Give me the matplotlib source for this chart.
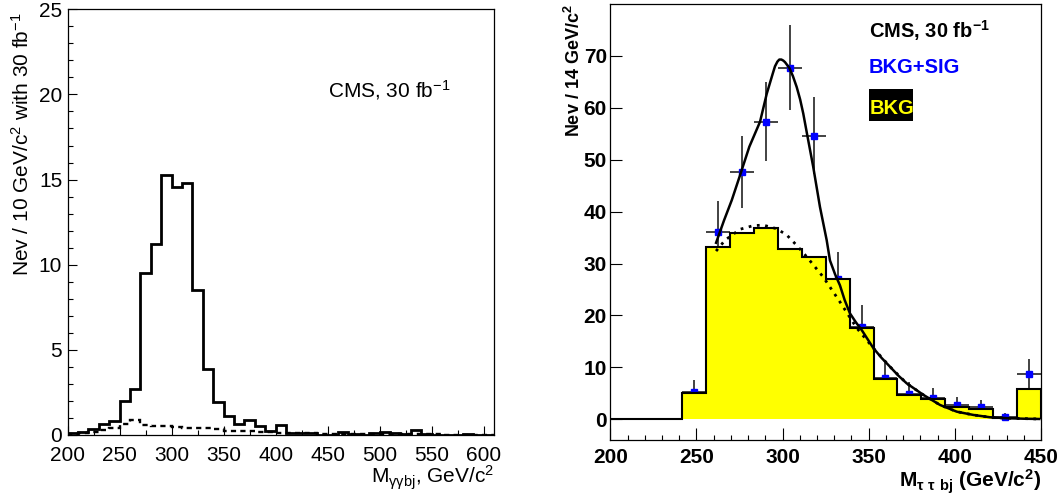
import numpy as np
import matplotlib
matplotlib.use("Agg")
import matplotlib.pyplot as plt
from matplotlib.patches import Rectangle

plt.rcParams['font.family'] = ['Liberation Sans', 'DejaVu Sans']
plt.rcParams['mathtext.default'] = 'regular'

# ---------------- Left panel data ----------------
left_edges = np.arange(200, 620, 10)
left_sig_bkg = [0.1, 0.2, 0.35, 0.65, 0.8, 1.97, 2.7, 9.5, 11.2, 15.27, 14.57, 14.78,
                8.5, 3.88, 1.96, 1.12, 0.63, 0.88, 0.5, 0.24, 0.6, 0.14, 0.14, 0.1,
                0.02, 0.0, 0.15, 0.05, 0.0, 0.12, 0.15, 0.1, 0.05, 0.28, 0.05, 0.0,
                0.0, 0.0, 0.07, 0.0, 0.0]
left_bkg = [0.08, 0.12, 0.2, 0.3, 0.42, 0.65, 0.9, 0.6, 0.55, 0.52, 0.48, 0.42,
            0.4, 0.4, 0.38, 0.26, 0.26, 0.22, 0.2, 0.15, 0.14, 0.12, 0.1, 0.09,
            0.08, 0.07, 0.06, 0.05, 0.05, 0.05, 0.04, 0.04, 0.04, 0.03, 0.03, 0.03,
            0.02, 0.02, 0.02, 0.02, 0.02]
left_xticks = [200, 250, 300, 350, 400, 450, 500, 550, 600]
left_yticks = [0, 5, 10, 15, 20, 25]

# ---------------- Right panel data ----------------
right_edges = np.linspace(200, 450, 19)
right_bkg = [0, 0, 0, 5.07, 33.2, 35.9, 36.9, 32.8, 31.3, 27.1, 17.6, 7.7,
             4.7, 3.85, 2.4, 2.05, 0.3, 5.9]
point_bins = list(range(3, 18))
point_vals = [5.3, 36.1, 47.6, 57.3, 67.7, 54.6, 27.1, 17.8, 8.0, 4.9, 4.0,
              2.7, 2.3, 0.45, 8.7]
point_errs = [2.3, 6.0, 6.9, 7.6, 8.2, 7.4, 5.2, 4.2, 2.8, 2.2, 2.0, 1.6,
              1.5, 0.7, 2.9]

fit_sb_x = [261.4, 266.0, 270.5, 275.7, 280.7, 286.9, 290.8, 294.3, 295.6, 297.0,
            298.1, 299.3, 300.4, 301.4, 303.9, 306.0, 308.2, 310.2, 312.0, 314.4,
            317.8, 321.7, 325.6, 327.5, 330.5, 333.3, 336.0, 339.1, 342.5, 345.9,
            352.7, 357.5, 362.4, 367.2, 372.1, 381.7, 391.4, 401.1, 410.7, 420.4,
            430.1, 440.0, 449.0]
fit_sb_y = [34.0, 38.3, 42.2, 47.4, 52.5, 57.3, 62.7, 66.6, 68.0, 68.9,
            69.3, 69.3, 69.1, 68.8, 67.7, 66.1, 64.0, 61.6, 58.9, 54.6,
            48.6, 40.9, 34.5, 30.6, 27.9, 25.8, 23.0, 20.4, 18.7, 17.2,
            13.7, 11.8, 10.1, 8.4, 6.9, 4.7, 2.75, 1.46, 0.83, 0.38,
            0.2, 0.1, 0.05]
fit_b_x = [261.4, 266.6, 275.3, 283.0, 288.8, 296.6, 302.4, 308.2, 314.0, 323.6,
           333.3, 343.0, 352.7, 362.4, 372.1, 381.7, 391.4, 401.1, 410.7, 420.4,
           430.1, 449.0]
fit_b_y = [32.4, 34.5, 36.6, 37.3, 37.4, 36.7, 35.5, 33.5, 31.3, 27.4,
           22.6, 17.6, 13.7, 10.1, 6.9, 4.7, 2.75, 1.46, 0.83, 0.38,
           0.2, 0.05]
right_xticks = [200, 250, 300, 350, 400, 450]
right_yticks = [0, 10, 20, 30, 40, 50, 60, 70]

W, H = 1061, 499
fig = plt.figure(figsize=(W / 100, H / 100), dpi=100)

# ---------------- Left panel ----------------
axL = fig.add_axes([67.7 / W, 1 - 435 / H, (494 - 67.7) / W, (435 - 9.3) / H])
axL.stairs(left_sig_bkg, left_edges, color='black', lw=2.0)
axL.stairs(left_bkg, left_edges, color='black', lw=1.7, linestyle=(0, (2.2, 1.8)))
axL.set_xlim(200, 610)
axL.set_ylim(0, 25)
axL.set_xticks(left_xticks)
axL.set_xticks(np.arange(200, 611, 25), minor=True)
axL.set_yticks(left_yticks)
axL.set_yticks(np.arange(0, 26, 1), minor=True)
axL.tick_params(which='both', direction='in', labelsize=15)
axL.tick_params(which='major', length=6.5, width=0.8)
axL.tick_params(which='minor', length=3.6, width=0.8)
axL.tick_params(axis='x', pad=8)
axL.tick_params(axis='y', pad=4)
for s in axL.spines.values():
    s.set_linewidth(0.9)
fig.text(22 / W, 1 - 12 / H, r'Nev / 10 GeV/c$^{2}$ with 30 fb$^{-1}$',
         rotation=90, ha='center', va='top', fontsize=15)
fig.text(494 / W, 1 - 478 / H, r'M$_{\gamma\gamma bj}$, GeV/c$^{2}$',
         ha='right', va='center', fontsize=15)
fig.text(328 / W, 1 - 90 / H, r'CMS, 30 fb$^{-1}$', ha='left', va='center',
         fontsize=15)

# ---------------- Right panel ----------------
axR = fig.add_axes([610.3 / W, 1 - 440 / H, (1041 - 610.3) / W, (440 - 4) / H])
centers = [(right_edges[i] + right_edges[i + 1]) / 2 for i in point_bins]
halfw = [(right_edges[i + 1] - right_edges[i]) / 2 for i in point_bins]
axR.errorbar(centers, point_vals, yerr=point_errs, xerr=halfw, fmt='s',
             color='blue', ms=4, ecolor='#222222', elinewidth=1.2,
             capsize=0, zorder=1)
axR.stairs(right_bkg, right_edges, fill=True, color='#ffff00', zorder=2)
axR.stairs(right_bkg, right_edges, color='black', lw=1.5, zorder=3)
axR.plot(fit_b_x, fit_b_y, color='black', lw=2.0, linestyle=(0, (1, 2)), zorder=4)
axR.plot(fit_sb_x, fit_sb_y, color='black', lw=1.8, zorder=5)
axR.set_xlim(200, 450)
axR.set_ylim(-4, 80)
axR.set_xticks(right_xticks)
axR.set_xticks(np.arange(200, 451, 10), minor=True)
axR.set_yticks(right_yticks)
axR.tick_params(which='both', direction='in', labelsize=15)
axR.tick_params(which='major', length=8.6, width=0.8)
axR.tick_params(which='minor', length=3.6, width=0.8)
axR.tick_params(axis='x', pad=6)
axR.tick_params(axis='y', pad=2.5)
for lab in axR.get_xticklabels() + axR.get_yticklabels():
    lab.set_fontweight('bold')
for s in axR.spines.values():
    s.set_linewidth(0.9)
fig.text(574 / W, 1 - 4 / H, r'Nev / 14 GeV/c$^{2}$', rotation=90,
         ha='center', va='top', fontsize=13, fontweight='bold')
fig.text(1041 / W, 1 - 482 / H, r'M$_{\tau\ \tau\ bj}$ (GeV/c$^{2}$)',
         ha='right', va='center', fontsize=15, fontweight='bold')
fig.text(869 / W, 1 - 31 / H, r'CMS, 30 fb$^{-1}$', ha='left', va='center',
         fontsize=14.5, fontweight='bold', color='black')
fig.text(869 / W, 1 - 67.5 / H, 'BKG+SIG', ha='left', va='center',
         fontsize=14.5, fontweight='bold', color='blue')
fig.patches.append(Rectangle((869 / W, 1 - 120.7 / H), 43.7 / W, 31.7 / H,
                             transform=fig.transFigure, facecolor='black',
                             edgecolor='none'))
fig.text(870 / W, 1 - 109 / H, 'BKG', ha='left', va='center',
         fontsize=14.5, fontweight='bold', color='#ffff00')

fig.savefig('out.png', dpi=100)
